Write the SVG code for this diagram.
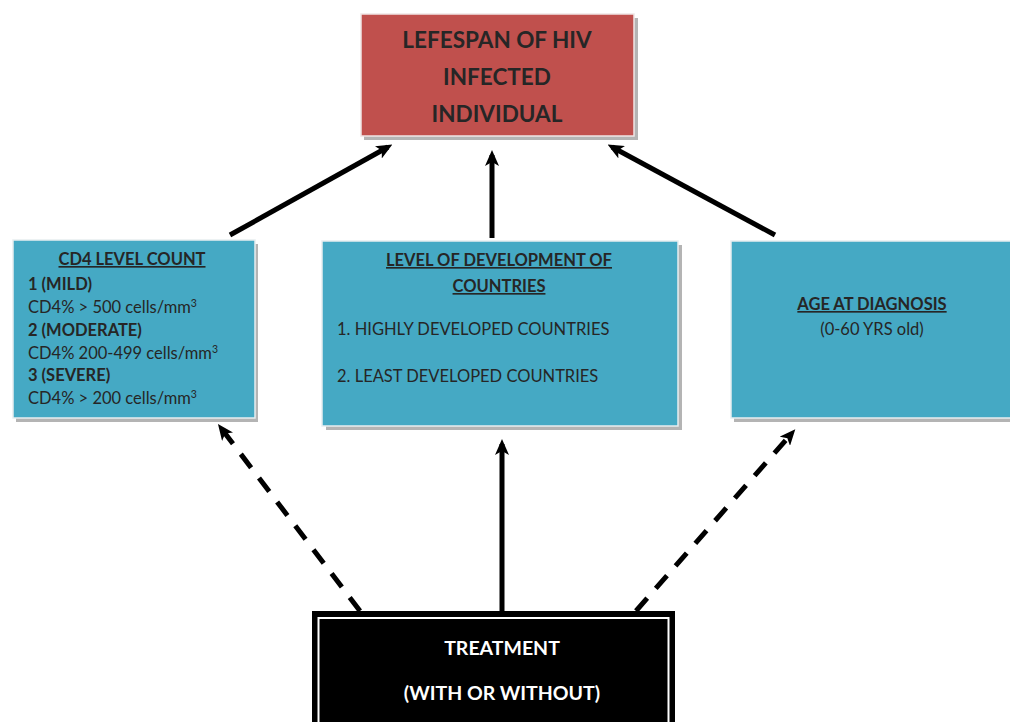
<svg xmlns="http://www.w3.org/2000/svg" width="1010" height="722" viewBox="0 0 1010 722">
<style>
text{font-family:Lato,"Open Sans","Liberation Sans",sans-serif;fill:#262626}
.b{font-weight:bold}
.u{text-decoration:underline}
.t{font-size:16.5px}
.shadow{fill:#b4b4b4}
.blue{fill:#45A9C4;stroke:#e8eef0;stroke-width:1.5}
.con{stroke:#000;stroke-width:5;fill:none}
.dash{stroke-dasharray:17 13}
.w{fill:#fff}
</style>
<defs>
<marker id="ah" markerWidth="16" markerHeight="14" refX="11" refY="7" orient="auto" markerUnits="userSpaceOnUse" viewBox="0 0 16 14">
<path d="M0,0 L16,7 L0,14 L4,7 Z" fill="#000"/>
</marker>
</defs>
<rect width="1010" height="722" fill="#fff"/>
<g id="connectors">
<line class="con" x1="230" y1="235" x2="388" y2="147" marker-end="url(#ah)"/>
<line class="con" x1="492" y1="238" x2="492" y2="155" marker-end="url(#ah)"/>
<line class="con" x1="775" y1="235" x2="612" y2="147" marker-end="url(#ah)"/>
<line class="con dash" x1="360" y1="611" x2="221" y2="428" marker-end="url(#ah)"/>
<line class="con" x1="502" y1="612" x2="502" y2="444" marker-end="url(#ah)"/>
<line class="con dash" x1="636" y1="611" x2="792" y2="433" marker-end="url(#ah)"/>
</g>
<g id="lifespan">
<rect x="364" y="18" width="274" height="122" class="shadow"/>
<rect x="361" y="14" width="273" height="122" fill="#C0504D" stroke="#f0e6e6" stroke-width="1.5"/>
<text class="b" x="497" y="48" font-size="22.5" text-anchor="middle">LEFESPAN OF HIV</text>
<text class="b" x="497" y="85" font-size="22.5" text-anchor="middle">INFECTED</text>
<text class="b" x="497" y="122" font-size="22.5" text-anchor="middle">INDIVIDUAL</text>
</g>
<g id="cd4">
<rect x="16" y="244" width="242" height="178" class="shadow"/>
<rect x="13" y="240" width="242" height="178" class="blue"/>
<text class="b u t" x="132" y="265" text-anchor="middle">CD4 LEVEL COUNT</text>
<text class="b t" x="28" y="290">1 (MILD)</text>
<text class="t" x="28" y="313">CD4% &gt; 500 cells/mm<tspan font-size="10.5" dy="-6">3</tspan></text>
<text class="b t" x="28" y="336">2 (MODERATE)</text>
<text class="t" x="28" y="359">CD4% 200-499 cells/mm<tspan font-size="10.5" dy="-6">3</tspan></text>
<text class="b t" x="28" y="381">3 (SEVERE)</text>
<text class="t" x="28" y="404">CD4% &gt; 200 cells/mm<tspan font-size="10.5" dy="-6">3</tspan></text>
</g>
<g id="development">
<rect x="326" y="245" width="356" height="185" class="shadow"/>
<rect x="322" y="241" width="356" height="185" class="blue"/>
<text class="b u t" x="499" y="266" text-anchor="middle">LEVEL OF DEVELOPMENT OF</text>
<text class="b u t" x="499" y="292" text-anchor="middle">COUNTRIES</text>
<text class="t" x="337" y="335">1. HIGHLY DEVELOPED COUNTRIES</text>
<text class="t" x="337" y="382">2. LEAST DEVELOPED COUNTRIES</text>
</g>
<g id="age">
<rect x="734" y="245" width="280" height="177" class="shadow"/>
<rect x="731" y="241" width="285" height="177" class="blue"/>
<text class="b u t" x="872" y="310" text-anchor="middle">AGE AT DIAGNOSIS</text>
<text class="t" x="872" y="335" text-anchor="middle">(0-60 YRS old)</text>
</g>
<g id="treatment">
<rect x="312" y="611" width="363" height="115" fill="#000"/>
<rect x="318.5" y="618" width="350" height="110" fill="none" stroke="#fff" stroke-width="2"/>
<text class="b w" x="502" y="655" font-size="19.5" text-anchor="middle">TREATMENT</text>
<text class="b w" x="502" y="700" font-size="19.5" text-anchor="middle">(WITH OR WITHOUT)</text>
</g>
</svg>
